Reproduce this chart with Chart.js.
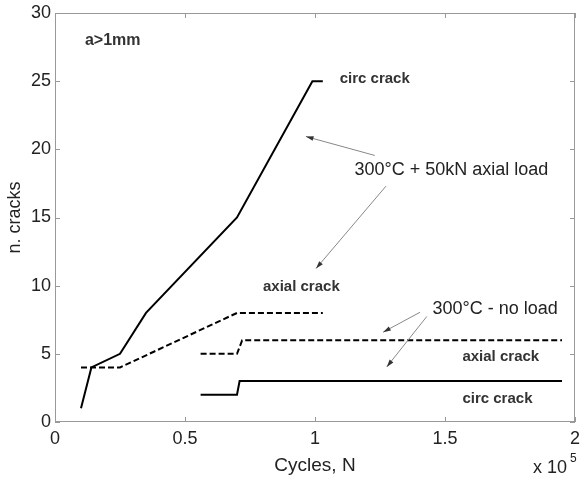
<!DOCTYPE html>
<html>
<head>
<meta charset="utf-8">
<script src="https://cdn.jsdelivr.net/npm/chart.js@4.4.1/dist/chart.umd.min.js"></script>
<style>
  html, body { margin: 0; padding: 0; background: #fff; }
  #wrap { width: 580px; height: 480px; }
</style>
</head>
<body>
<div id="wrap"><canvas id="cracks"></canvas></div>
<script>
"use strict";

// cycles are in units of 1e5
const loadCircX = [0.1, 0.14, 0.25, 0.35, 0.7, 0.99, 1.03];
const loadCircY = [1, 4, 5, 8, 15, 25, 25];
const loadAxialX = [0.1, 0.25, 0.7, 1.03];
const loadAxialY = [4, 4, 8, 8];
const freeAxialX = [0.56, 0.7, 0.72, 1.95];
const freeAxialY = [5, 5, 6, 6];
const freeCircX = [0.56, 0.7, 0.71, 1.95];
const freeCircY = [2, 2, 3, 3];

const xTicks = [0, 0.5, 1, 1.5, 2];
const yTicks = [0, 5, 10, 15, 20, 25, 30];

// annotations (text, x, y in data units)
const notes = [
  { text: "a>1mm", x: 0.115, y: 28, font: "bold 16px Arial" },
  { text: "circ crack", x: 1.095, y: 25.2, font: "bold 15px Arial" },
  { text: "300°C + 50kN axial load", x: 1.152, y: 18.5, font: "18px Arial" },
  { text: "axial crack", x: 0.8, y: 9.9, font: "bold 15px Arial" },
  { text: "300°C - no load", x: 1.452, y: 8.3, font: "18px Arial" },
  { text: "axial crack", x: 1.567, y: 4.75, font: "bold 15px Arial" },
  { text: "circ crack", x: 1.567, y: 1.7, font: "bold 15px Arial" },
];
// arrows: from [x, y] to [x, y]
const arrows = [
  [[1.23, 19.55], [0.965, 20.94]],
  [[1.273, 17.3], [1.004, 11.26]],
  [[1.404, 8.05], [1.262, 6.59]],
  [[1.43, 7.74], [1.276, 4.04]],
];

const toPoints = (xs, ys) => xs.map((x, i) => ({ x: x, y: ys[i] }));

const line = (label, xs, ys, dashed) => ({
  label: label,
  data: toPoints(xs, ys),
  showLine: true,
  borderColor: "#000",
  borderWidth: 2,
  borderDash: dashed ? [6, 3] : [],
  pointRadius: 0,
  tension: 0,
  fill: false,
});

const decorations = {
  id: "decorations",
  afterDraw: (chart) => {
    const { ctx, chartArea: a, scales } = chart;
    const sx = scales.x, sy = scales.y;
    ctx.save();
    // box and inward ticks
    ctx.strokeStyle = "#999";
    ctx.lineWidth = 1;
    ctx.setLineDash([]);
    ctx.strokeRect(a.left + 0.5, a.top + 0.5, a.right - a.left - 1, a.bottom - a.top - 1);
    ctx.beginPath();
    xTicks.forEach((v) => {
      const px = Math.round(sx.getPixelForValue(v)) + 0.5;
      ctx.moveTo(px, a.bottom); ctx.lineTo(px, a.bottom - 5);
      ctx.moveTo(px, a.top); ctx.lineTo(px, a.top + 5);
    });
    yTicks.forEach((v) => {
      const py = Math.round(sy.getPixelForValue(v)) + 0.5;
      ctx.moveTo(a.left, py); ctx.lineTo(a.left + 5, py);
      ctx.moveTo(a.right, py); ctx.lineTo(a.right - 5, py);
    });
    ctx.stroke();

    // arrows
    arrows.forEach(([from, to]) => {
      const x0 = sx.getPixelForValue(from[0]), y0 = sy.getPixelForValue(from[1]);
      const x1 = sx.getPixelForValue(to[0]), y1 = sy.getPixelForValue(to[1]);
      const ang = Math.atan2(y1 - y0, x1 - x0);
      ctx.strokeStyle = "#888";
      ctx.lineWidth = 1;
      ctx.beginPath();
      ctx.moveTo(x0, y0);
      ctx.lineTo(x1, y1);
      ctx.stroke();
      ctx.fillStyle = "#333";
      ctx.beginPath();
      ctx.moveTo(x1, y1);
      ctx.lineTo(x1 - 8 * Math.cos(ang - 0.3), y1 - 8 * Math.sin(ang - 0.3));
      ctx.lineTo(x1 - 8 * Math.cos(ang + 0.3), y1 - 8 * Math.sin(ang + 0.3));
      ctx.closePath();
      ctx.fill();
    });

    // text notes
    ctx.fillStyle = "#222";
    ctx.textBaseline = "middle";
    ctx.textAlign = "left";
    notes.forEach((n) => {
      ctx.font = n.font;
      ctx.fillStyle = n.font.startsWith("bold") ? "#333" : "#222";
      ctx.fillText(n.text, sx.getPixelForValue(n.x), sy.getPixelForValue(n.y));
    });

    // exponent
    ctx.fillStyle = "#222";
    ctx.font = "18px Arial";
    ctx.textBaseline = "alphabetic";
    ctx.fillText("x 10", 533, 473);
    ctx.font = "12px Arial";
    ctx.fillText("5", 570, 462);
    ctx.restore();
  },
};

new Chart(document.getElementById("cracks").getContext("2d"), {
  type: "scatter",
  data: {
    datasets: [
      line("300C + 50kN circ crack", loadCircX, loadCircY, false),
      line("300C + 50kN axial crack", loadAxialX, loadAxialY, true),
      line("300C no load axial crack", freeAxialX, freeAxialY, true),
      line("300C no load circ crack", freeCircX, freeCircY, false),
    ],
  },
  options: {
    responsive: true,
    maintainAspectRatio: false,
    animation: false,
    layout: { padding: { top: 13, right: 5, left: 0, bottom: 0 } },
    plugins: {
      legend: { display: false },
      tooltip: { enabled: false },
    },
    scales: {
      x: {
        type: "linear",
        min: 0,
        max: 2,
        afterBuildTicks: (s) => { s.ticks = xTicks.map((v) => ({ value: v })); },
        afterFit: (s) => { s.height = 58; s.paddingLeft = 0; s.paddingRight = 0; },
        grid: { display: false, drawTicks: false },
        border: { display: false },
        ticks: {
          padding: 6,
          color: "#222",
          font: { family: "Arial", size: 18 },
          callback: (v) => String(v),
        },
        title: {
          display: true,
          text: "Cycles, N",
          color: "#222",
          font: { family: "Arial", size: 19 },
          padding: { top: 0, bottom: 3 },
        },
      },
      y: {
        type: "linear",
        min: 0,
        max: 30,
        afterBuildTicks: (s) => { s.ticks = yTicks.map((v) => ({ value: v })); },
        afterFit: (s) => { s.width = 55; s.paddingTop = 0; s.paddingBottom = 0; },
        grid: { display: false, drawTicks: false },
        border: { display: false },
        ticks: {
          padding: 4,
          color: "#222",
          font: { family: "Arial", size: 18 },
        },
        title: {
          display: true,
          text: "n. cracks",
          color: "#222",
          font: { family: "Arial", size: 18 },
          padding: { top: 4, bottom: 0 },
        },
      },
    },
  },
  plugins: [decorations],
});
</script>
</body>
</html>
